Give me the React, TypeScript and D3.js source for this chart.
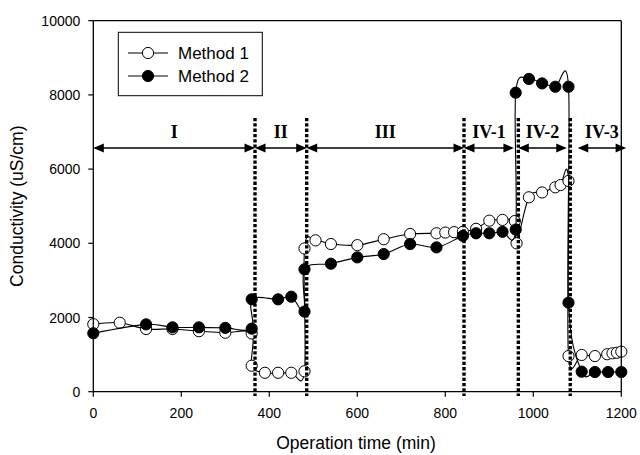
import React from 'react';
import * as d3 from 'd3';

const m1Time = [0, 60, 120, 180, 240, 300, 360, 360, 390, 420, 450, 480, 480, 505, 540, 600, 660, 720, 780, 800, 820, 840, 870, 900, 930, 958, 962, 990, 1020, 1050, 1062, 1080, 1080, 1110, 1140, 1168, 1180, 1190, 1200];
const m1Value = [1820, 1860, 1690, 1690, 1630, 1590, 1570, 700, 510, 510, 510, 550, 3860, 4080, 3980, 3950, 4110, 4250, 4270, 4290, 4300, 4310, 4390, 4610, 4630, 4600, 4000, 5240, 5370, 5510, 5570, 5680, 960, 990, 960, 1010, 1035, 1050, 1080];
const m2Time = [0, 120, 180, 240, 300, 360, 360, 420, 450, 480, 480, 540, 600, 660, 720, 780, 840, 870, 900, 930, 960, 960, 990, 1020, 1050, 1080, 1080, 1110, 1140, 1170, 1200];
const m2Value = [1575, 1815, 1735, 1735, 1720, 1700, 2490, 2490, 2560, 2160, 3300, 3450, 3620, 3710, 3980, 3890, 4200, 4270, 4270, 4310, 4370, 8060, 8430, 8310, 8220, 8220, 2400, 540, 530, 530, 530];

const xTicks = [0, 200, 400, 600, 800, 1000, 1200];
const yTicks = [0, 2000, 4000, 6000, 8000, 10000];

const phaseLabels = ['I', 'II', 'III', 'IV-1', 'IV-2', 'IV-3'];
const phaseStart = [0, 367.5, 485, 842.5, 966, 1101];
const phaseEnd = [367.5, 485, 842.5, 956, 1076, 1211];
const dividers = [367.5, 485, 842.5, 966, 1084];

const seriesNames = ['Method 1', 'Method 2'];
const seriesFill = ['#ffffff', '#000000'];

export default function App() {
  const x = d3.scaleLinear().domain([0, 1200]).range([93.3, 621.3]);
  const y = d3.scaleLinear().domain([0, 10000]).range([391.7, 20.7]);
  const line = d3
    .line<[number, number]>()
    .x((d) => x(d[0]))
    .y((d) => y(d[1]))
    .curve(d3.curveCardinal.tension(0));

  const m1 = m1Time.map((t, i) => [t, m1Value[i]] as [number, number]);
  const m2 = m2Time.map((t, i) => [t, m2Value[i]] as [number, number]);
  const series = [m1, m2];

  const arrowY = 148;
  const labelY = 138;
  const ah = 10.5;
  const aw = 4.4;
  const font = 'Liberation Sans, Arial, sans-serif';
  const serif = 'Liberation Serif, Times New Roman, serif';
  const [x0, x1] = x.range();
  const [yb, yt] = y.range();

  return (
    <svg width={640} height={455} style={{ position: 'absolute', left: 0, top: 0, background: '#fff' }}>
      <rect x={0} y={0} width={640} height={455} fill="#fff" />
      {/* series */}
      {series.map((s, si) => (
        <g key={si}>
          <path d={line(s) || ''} fill="none" stroke="#000" strokeWidth={1.1} />
          {s.map((d, i) => (
            <circle key={i} cx={x(d[0])} cy={y(d[1])} r={5.6} fill={seriesFill[si]} stroke="#000" strokeWidth={1} />
          ))}
        </g>
      ))}
      {/* frame */}
      <g stroke="#000" strokeWidth={1.3} fill="none">
        <line x1={x0} y1={yt} x2={x1} y2={yt} />
        <line x1={x1} y1={yt} x2={x1} y2={yb} />
        <line x1={x0} y1={yt} x2={x0} y2={yb} />
        <line x1={x0} y1={yb} x2={x1} y2={yb} />
      </g>
      {/* ticks */}
      {yTicks.map((v) => (
        <g key={'y' + v}>
          <line x1={x0 - 5} x2={x0} y1={y(v)} y2={y(v)} stroke="#000" strokeWidth={1.2} />
          <text x={x0 - 13} y={y(v) + 5} textAnchor="end" fontFamily={font} fontSize={14}>
            {v}
          </text>
        </g>
      ))}
      {xTicks.map((v) => (
        <g key={'x' + v}>
          <line x1={x(v)} x2={x(v)} y1={yb} y2={yb + 5} stroke="#000" strokeWidth={1.2} />
          <text x={x(v)} y={418} textAnchor="middle" fontFamily={font} fontSize={14}>
            {v}
          </text>
        </g>
      ))}
      <text x={356} y={449} textAnchor="middle" fontFamily={font} fontSize={17.5}>
        Operation time (min)
      </text>
      <text
        transform={`translate(23, ${(yt + yb) / 2}) rotate(-90)`}
        textAnchor="middle"
        fontFamily={font}
        fontSize={17.5}
      >
        Conductivity (uS/cm)
      </text>
      {/* dividers */}
      {dividers.map((t, i) => (
        <line key={'d' + i} x1={x(t)} x2={x(t)} y1={118} y2={396} stroke="#000" strokeWidth={3.4} strokeDasharray="3.3 2" />
      ))}
      {/* phase arrows */}
      {phaseLabels.map((lab, i) => {
        const a = x(phaseStart[i]);
        const b = x(phaseEnd[i]);
        return (
          <g key={'p' + i}>
            <line x1={a + 2} x2={b - 2} y1={arrowY} y2={arrowY} stroke="#000" strokeWidth={1.4} />
            <path d={`M${a},${arrowY} L${a + ah},${arrowY - aw} L${a + ah},${arrowY + aw} Z`} fill="#000" />
            <path d={`M${b},${arrowY} L${b - ah},${arrowY - aw} L${b - ah},${arrowY + aw} Z`} fill="#000" />
            <text x={(a + b) / 2} y={labelY} textAnchor="middle" fontFamily={serif} fontWeight="bold" fontSize={18}>
              {lab}
            </text>
          </g>
        );
      })}
      {/* legend */}
      <rect x={118.3} y={32.3} width={144} height={63.4} fill="#fff" stroke="#000" strokeWidth={1} />
      {seriesNames.map((name, i) => {
        const cy = 53 + i * 23;
        return (
          <g key={'l' + i}>
            <line x1={128} x2={168} y1={cy} y2={cy} stroke="#000" strokeWidth={1.1} />
            <circle cx={148} cy={cy} r={5.6} fill={seriesFill[i]} stroke="#000" strokeWidth={1} />
            <text x={178} y={cy + 6} fontFamily={font} fontSize={17}>
              {name}
            </text>
          </g>
        );
      })}
    </svg>
  );
}
